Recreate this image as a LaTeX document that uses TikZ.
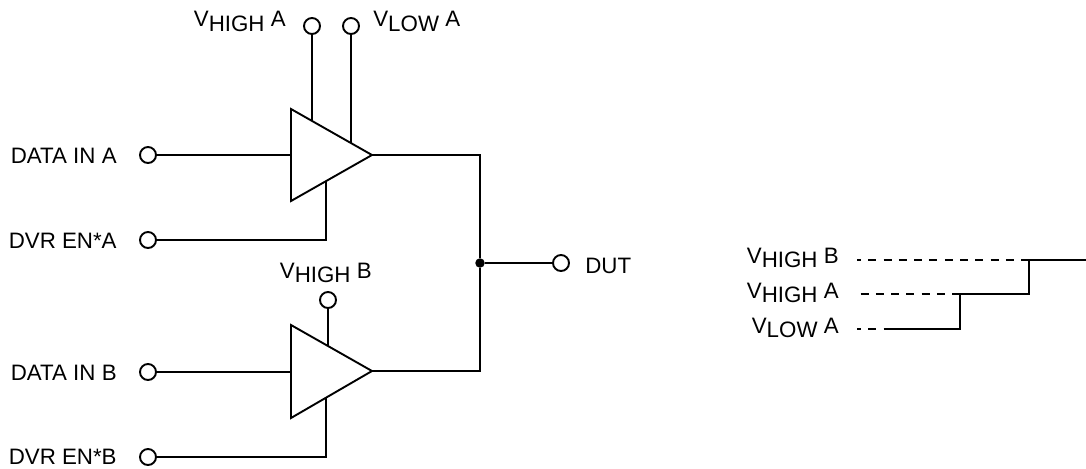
\documentclass[tikz,border=0pt]{standalone}
\usepackage{fontspec}
\setmainfont{Liberation Sans}
\usepackage{tikz}
\newcommand{\thickness}{0.38mm}
\newcommand{\pinsize}{0.32cm}
\newcommand{\vlabel}[2]{V\raisebox{-0.9mm}{#1} #2}
\tikzset{
  wire/.style={line width=\thickness},
  dashwire/.style={line width=0.34mm, dash pattern=on 0.16cm off 0.146cm},
  pin/.style={circle, draw, line width=\thickness, fill=white, inner sep=0pt, minimum size=\pinsize},
  dot/.style={circle, fill, inner sep=0pt, minimum size=0.19cm},
  lbl/.style={inner sep=0pt, font=\fontsize{12.7}{15}\selectfont}
}

\begin{document}
\begin{tikzpicture}[x=0.02cm, y=-0.02cm]
\useasboundingbox (0,0) rectangle (1086,468);
%driver A
\coordinate (ta1) at (291,109);
\coordinate (ta2) at (291,201);
\coordinate (tao) at (372,155);
\coordinate (tah) at (312,121);
\coordinate (tal) at (351,143);
\coordinate (tai) at (291,155);
\coordinate (tae) at (326,181);
\draw[wire] (ta1) -- (ta2) -- (tao) -- cycle;
\node[pin] (vha) at (312,26) {};
\node[pin] (vla) at (351,26) {};
\node[pin] (dia) at (148,155) {};
\node[pin] (dea) at (148,240) {};
\node[lbl, anchor=base east] (lvha) at (286,26.5) {\vlabel{HIGH}{A}};
\node[lbl, anchor=base west] (lvla) at (373,26.5) {\vlabel{LOW}{A}};
\node[lbl, anchor=base east] (ldia) at (117,163) {DATA IN A};
\node[lbl, anchor=base east] (ldea) at (117,248) {DVR EN*A};
\draw[wire] (vha) -- (tah);
\draw[wire] (vla) -- (tal);
\draw[wire] (dia) -- (tai);
\draw[wire] (dea) -| (tae);
%driver B
\coordinate (tb1) at (291,325);
\coordinate (tb2) at (291,418);
\coordinate (tbo) at (372,371);
\coordinate (tbh) at (328,346);
\coordinate (tbi) at (291,372);
\coordinate (tbe) at (326,398);
\draw[wire] (tb1) -- (tb2) -- (tbo) -- cycle;
\node[pin] (vhb) at (328,300) {};
\node[pin] (dib) at (148,372) {};
\node[pin] (deb) at (148,457) {};
\node[lbl, anchor=base east] (lvhb) at (372,278) {\vlabel{HIGH}{B}};
\node[lbl, anchor=base east] (ldib) at (117,380) {DATA IN B};
\node[lbl, anchor=base east] (ldeb) at (117,464) {DVR EN*B};
\draw[wire] (vhb) -- (tbh);
\draw[wire] (dib) -- (tbi);
\draw[wire] (deb) -| (tbe);
%output
\node[dot] (jct) at (480,263) {};
\node[pin] (dut) at (561,263) {};
\node[lbl, anchor=base west] (ldut) at (585,273) {DUT};
\draw[wire] (tao) -| (jct);
\draw[wire] (tbo) -| (jct);
\draw[wire] (jct) -- (dut);
%levels
\coordinate (hb0) at (857,260);
\coordinate (hb1) at (1029,260);
\coordinate (hb2) at (1086,260);
\coordinate (ha0) at (860.5,294);
\coordinate (ha1) at (960,294);
\coordinate (ha2) at (1029,294);
\coordinate (la0) at (857,329);
\coordinate (la1) at (892,329);
\coordinate (la2) at (960,329);
\node[lbl, anchor=base east] (lhb) at (839,263) {\vlabel{HIGH}{B}};
\node[lbl, anchor=base east] (lha) at (839,298) {\vlabel{HIGH}{A}};
\node[lbl, anchor=base east] (lla) at (839,333) {\vlabel{LOW}{A}};
\draw[dashwire, dash phase=0.08cm] (hb0) -- (hb1);
\draw[dashwire] (ha0) -- (ha1);
\draw[dashwire, dash phase=0.08cm] (la0) -- (la1);
\draw[wire] (la1) -- (la2) -- (ha1) -- (ha2) -- (hb1) -- (hb2);
\end{tikzpicture}
\end{document}
